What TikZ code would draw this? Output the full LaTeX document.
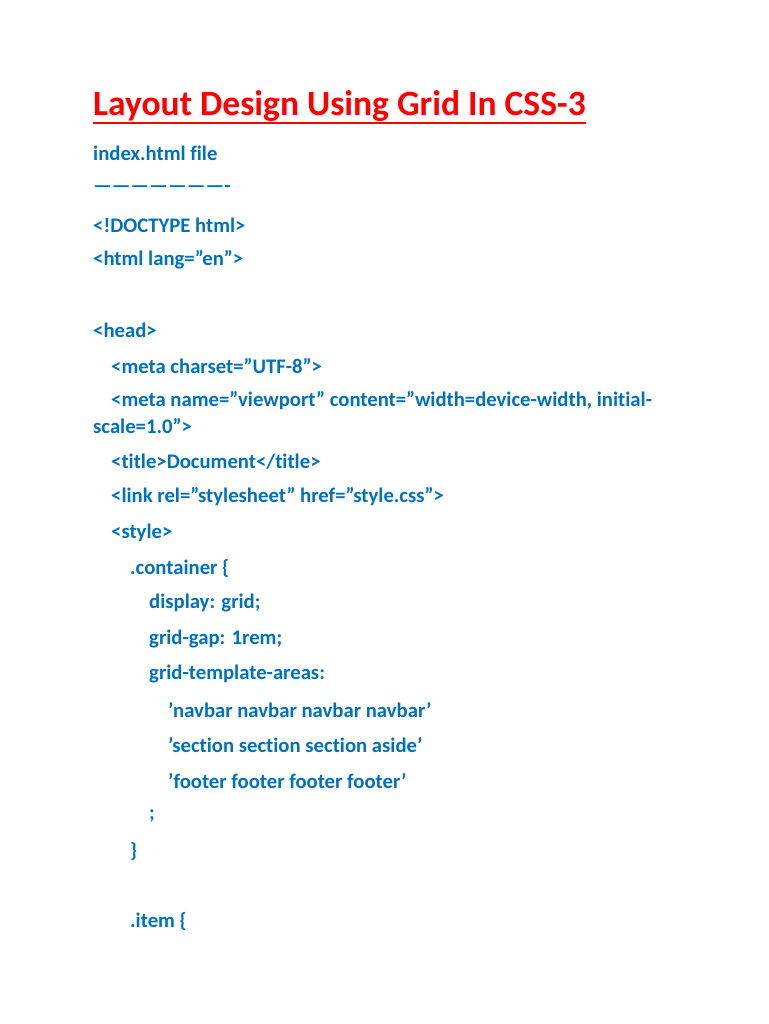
\documentclass[tikz,border=0pt]{standalone}
\usepackage{fontspec}
\defaultfontfeatures{}
\setmainfont{Carlito}[Ligatures={ResetAll,NoCommon}]
\definecolor{codeblue}{HTML}{0070C0}
\definecolor{titlered}{HTML}{FF0000}
\begin{document}
\begin{tikzpicture}[x=1pt,y=-1pt,
  codeline/.style={anchor=west,inner sep=0pt,text=codeblue,font=\fontsize{20.7}{24}\selectfont\bfseries}]
\fill[white] (0,0) rectangle (768,1024);
\useasboundingbox (0,0) rectangle (768,1024);
\node[anchor=west,inner sep=0pt,text=titlered,font=\fontsize{35.5}{40}\selectfont\bfseries] (title) at (93,106) {Layout Design Using Grid In CSS-3};
\draw[titlered,line width=2pt] ([yshift=-1pt]title.south west) -- ([yshift=-1pt]title.south east);
\node[codeline] (l1) at (93,153) {index.html file};
\node[codeline] (l2) at (93,189) {----------------------};
\node[codeline] (l3) at (93,225) {<!DOCTYPE html>};
\node[codeline] (l4) at (93,260) {<html lang="en">};
\node[codeline] (l5) at (93,330) {<head>};
\node[codeline] (l6) at (111,366) {<meta charset="UTF-8">};
\node[codeline] (l7) at (111,401) {<meta name="viewport" content="width=device-width, initial-};
\node[codeline] (l8) at (93,426) {scale=1.0">};
\node[codeline] (l9) at (111,462) {<title>Document</title>};
\node[codeline] (l10) at (111,497) {<link rel="stylesheet" href="style.css">};
\node[codeline] (l11) at (111,533) {<style>};
\node[codeline] (l12) at (130,568) {.container \{};
\node[codeline] (l13) at (149,603) {display: grid;};
\node[codeline] (l14) at (149,639) {grid-gap: 1rem;};
\node[codeline] (l15) at (149,674) {grid-template-areas:};
\node[codeline] (l16) at (168,710) {'navbar navbar navbar navbar'};
\node[codeline] (l17) at (168,745) {'section section section aside'};
\node[codeline] (l18) at (168,781) {'footer footer footer footer'};
\node[codeline] (l19) at (149,816) {;};
\node[codeline] (l20) at (130,851) {\}};
\node[codeline] (l21) at (130,921) {.item \{};
\end{tikzpicture}
\end{document}
